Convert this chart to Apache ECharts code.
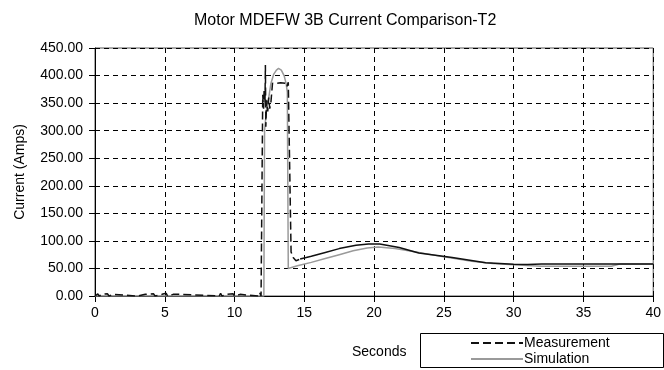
<!DOCTYPE html>
<html>
<head>
<meta charset="utf-8">
<script src="https://cdn.jsdelivr.net/npm/echarts@6/dist/echarts.min.js"></script>
<style>html,body{margin:0;padding:0;background:#fff;}#c{width:664px;height:370px;}</style>
</head>
<body>
<div id="c"></div>
<script>
// Measurement, start-up part (dashed)
var measStartTime = [0,0.1,0.2,0.3,0.5,0.6,0.9,1.0,1.3,1.4,2.9,3.0,3.1,3.6,3.7,4.2,4.3,4.8,4.9,5.1,5.2,5.6,5.7,6.1,6.2,8.9,9.0,9.1,9.4,9.5,9.9,10.0,10.4,10.5,11.7,11.8,11.9,12.0,12.02,12.08,12.12,12.18,12.21,12.24,12.3,12.38,12.45,12.52,12.6,12.68,12.72,13.0,13.3,13.65,13.75,13.85,13.98,14.05,14.2,14.4,14.7];
var measStartCurrent = [0,0,4,0,3,0,4,0,3,0,0,3,0,3,0,4,0,3,0,5,0,3,0,3,0,0,5,0,3,0,4,0,3,0,0,6,0,0,365,340,375,350,419,307,355,335,360,340,350,352,386,386,387,386,380,388,385,80,70,64,67];
// Measurement, recovery part (solid)
var measTime = [14.7,15.5,16.5,17.5,18.7,19.6,20.4,21.8,23.2,25.6,28,30,31,32,40];
var measCurrent = [67,72,79,86,92,94.5,94.5,88,78,70,60.5,57.5,57,58,58];
// Simulation
var simTime = [0,12.1,12.15,12.3,12.45,12.6,12.8,13.0,13.15,13.35,13.55,13.7,13.78,13.85,14.5,15.5,16.5,17.5,18.5,19.5,20.3,21.5,23,25,27,28.5,30,32,37,37.6,40];
var simCurrent = [0,0,300,340,360,385,402,410,413,410,400,385,370,50,55,61,68,75,82,87,89,86,80,71,63,59,56.5,54,54,58,58];

var yTicks = [0,50,100,150,200,250,300,350,400,450];
var xTicks = [0,5,10,15,20,25,30,35,40];

function zip(a,b){var r=[];for(var i=0;i<a.length;i++)r.push([a[i],b[i]]);return r;}

var FF = "'Liberation Sans', Arial, sans-serif";
var chart = echarts.init(document.getElementById('c'), null, {renderer:'canvas'});
chart.setOption({
  animation:false,
  backgroundColor:'#fff',
  textStyle:{fontFamily:FF},
  title:{text:'Motor MDEFW 3B Current Comparison-T2', left:189, top:8,
    textStyle:{fontSize:16, fontWeight:'normal', color:'#000', fontFamily:FF}},
  grid:{left:95, right:9, top:48, bottom:74, show:true, borderColor:'#555', borderWidth:1, backgroundColor:'transparent'},
  legend:{
    data:['Measurement','Simulation'], orient:'vertical', left:470, top:336,
    itemWidth:52, itemHeight:14, itemGap:2, padding:0,
    itemStyle:{color:'rgba(0,0,0,0)', borderWidth:0, opacity:0},
    textStyle:{fontSize:14, color:'#000', fontFamily:FF, padding:[0,0,0,-4]}
  },
  graphic:[
    {type:'rect', left:420, top:333, shape:{width:243, height:34}, style:{fill:'#fff', stroke:'#000', lineWidth:1}, z:-1},
    {type:'text', left:352, top:345, style:{text:'Seconds', fontSize:14, fill:'#000', fontFamily:FF}}
  ],
  xAxis:{
    type:'value', min:xTicks[0], max:xTicks[xTicks.length-1], interval:5,
    axisLine:{show:true, onZero:false, lineStyle:{color:'#000', width:1}},
    axisTick:{show:true, length:6, lineStyle:{color:'#000'}},
    axisLabel:{fontSize:14, color:'#000', margin:10, fontFamily:FF},
    splitLine:{show:true, lineStyle:{color:'#000', type:[5,4], width:1}}
  },
  yAxis:{
    type:'value', min:yTicks[0], max:yTicks[yTicks.length-1], interval:50,
    name:'Current (Amps)', nameLocation:'middle', nameGap:68,
    nameTextStyle:{fontSize:14, color:'#000', fontFamily:FF},
    axisLine:{show:true, lineStyle:{color:'#000', width:1}},
    axisTick:{show:true, length:6, lineStyle:{color:'#000'}},
    axisLabel:{fontSize:14, color:'#000', margin:12, fontFamily:FF, formatter:function(v){return v.toFixed(2);}},
    splitLine:{show:true, lineStyle:{color:'#000', type:[5,4], width:1}}
  },
  series:[
    {name:'Measurement', type:'line', data:zip(measStartTime,measStartCurrent), symbol:'none', z:3,
      lineStyle:{color:'#111', width:1.5, type:[8,4]}, itemStyle:{color:'#111'}},
    {name:'Simulation', type:'line', data:zip(simTime,simCurrent), symbol:'none', z:2,
      lineStyle:{color:'#9a9a9a', width:1.5}, itemStyle:{color:'#9a9a9a'}},
    {name:'Measurement', type:'line', data:zip(measTime,measCurrent), symbol:'none', z:3,
      lineStyle:{color:'#111', width:1.5}, itemStyle:{color:'#111'}}
  ]
});
</script>
</body>
</html>
